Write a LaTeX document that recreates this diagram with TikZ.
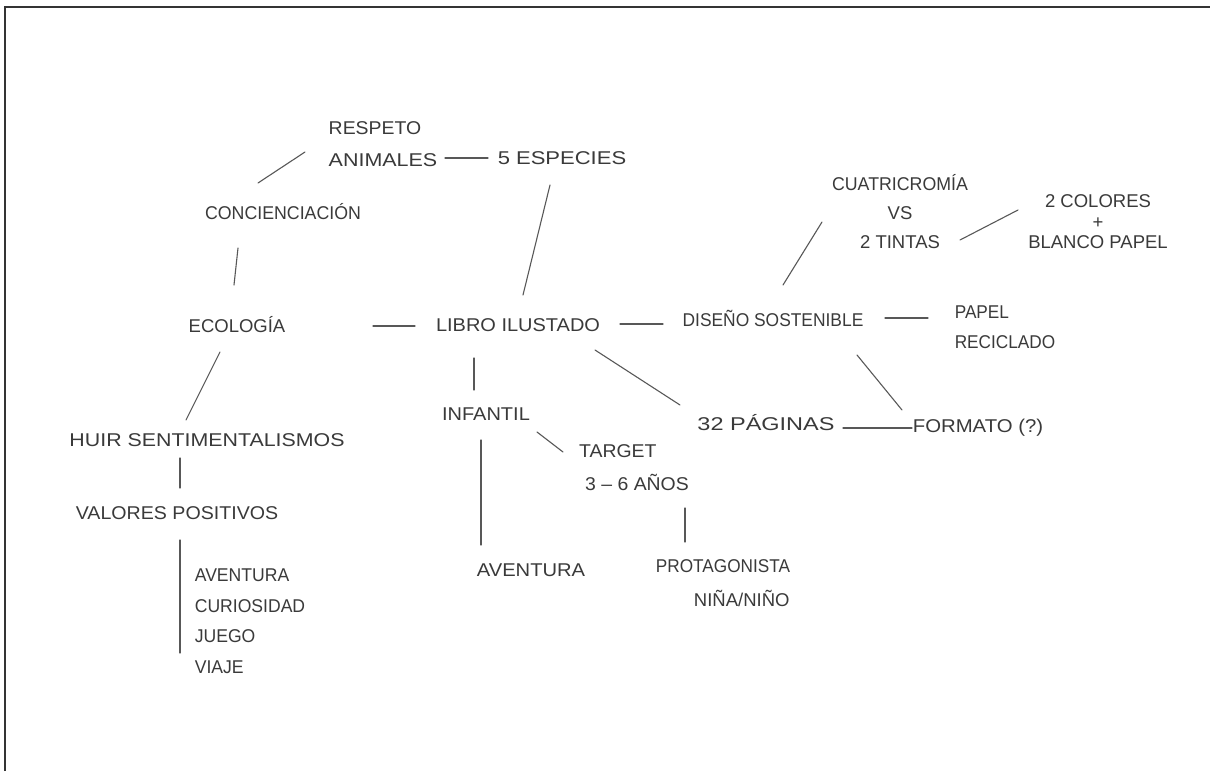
\documentclass[tikz,border=0pt]{standalone}
\usepackage{fontspec}
\usepackage{graphicx}
\setmainfont{Liberation Sans}
\usetikzlibrary{calc}
\definecolor{ink}{HTML}{3A3A3A}
\newcommand\fsz[2]{\fontsize{#1}{#2}\selectfont}
\newcommand\sx[2]{\scalebox{#1}[1]{#2}}
\begin{document}
\begin{tikzpicture}[x=1pt,y=-1pt,
  lbl/.style={text=ink, font=\fsz{18.5}{30}, inner sep=0pt},
  con/.style={draw=ink!85, line width=1.1pt, line cap=round}]
\useasboundingbox (0,0) rectangle (1210,771);
\fill[white] (0,0) rectangle (1210,771);
\draw[line width=2pt, ink!90!black] (5,771) -- (5,7) -- (1210,7);

% nodes
\node[lbl, align=left, font=\fsz{18.5}{32}] (resp) at (383,144) {\sx{1.05}{RESPETO}\\\sx{1.16}{ANIMALES}};
\node[lbl] (esp) at (562,158) {\sx{1.19}{5 ESPECIES}};
\node[lbl] (conc) at (283,212) {\sx{0.96}{CONCIENCIACIÓN}};
\node[lbl] (eco) at (237,325) {ECOLOGÍA};
\node[lbl] (libro) at (518,325) {\sx{1.08}{LIBRO ILUSTADO}};
\node[lbl] (dis) at (773,318) {\sx{0.94}{DISEÑO SOSTENIBLE}};
\node[lbl, align=left] (pap) at (1005,327) {\sx{0.93}{PAPEL}\\\sx{0.93}{RECICLADO}};
\node[lbl, align=center, font=\fsz{18.5}{29}] (cuat) at (900,212) {\sx{0.96}{CUATRICROMÍA}\\VS\\2 TINTAS};
\node[lbl, align=center, font=\fsz{18.5}{20.5}] (col) at (1098,222) {2 COLORES\\+\\BLANCO PAPEL};
\node[lbl] (pag) at (766,423) {\sx{1.27}{32 PÁGINAS}};
\node[lbl] (form) at (978,428) {\sx{1.1}{FORMATO (?)}};
\node[lbl] (inf) at (486,414) {\sx{1.08}{INFANTIL}};
\node[lbl, align=left, font=\fsz{18.5}{33}] (targ) at (634,468) {\sx{1.05}{TARGET}\\\hspace{6pt}\sx{1.05}{3 – 6 AÑOS}};
\node[lbl] (avent) at (531,570) {\sx{1.09}{AVENTURA}};
\node[lbl, align=left, font=\fsz{18.5}{34}] (prot) at (723,583) {\sx{0.93}{PROTAGONISTA}\\\hspace{38pt}NIÑA/NIÑO};
\node[lbl] (huir) at (207,440) {\sx{1.155}{HUIR SENTIMENTALISMOS}};
\node[lbl] (val) at (177,513) {\sx{1.06}{VALORES POSITIVOS}};
\node[lbl, align=left, font=\fsz{18.5}{30.5}] (list) at (250,621) {\sx{0.95}{AVENTURA}\\\sx{0.95}{CURIOSIDAD}\\\sx{0.95}{JUEGO}\\\sx{0.95}{VIAJE}};

% connectors
\draw[con] ($(resp)+(-78,8)$) -- ($(conc)+(-25,-29)$);
\draw[con] ($(resp)+(62,14)$) -- ($(esp)+(-74,0)$);
\draw[con] ($(conc)+(-45,36)$) -- ($(eco)+(-3,-40)$);
\draw[con] ($(esp)+(-12,27)$) -- ($(libro)+(5,-30)$);
\draw[con] ($(eco)+(136,1)$) -- ($(libro)+(-103,1)$);
\draw[con] ($(libro)+(102,-1)$) -- ($(dis)+(-110,6)$);
\draw[con] ($(dis)+(112,0)$) -- ($(pap)+(-77,-9)$);
\draw[con] ($(dis)+(10,-33)$) -- ($(cuat)+(-78,10)$);
\draw[con] ($(cuat)+(60,28)$) -- ($(col)+(-80,-12)$);
\draw[con] ($(libro)+(77,25)$) -- ($(pag)+(-86,-18)$);
\draw[con] ($(dis)+(84,37)$) -- ($(form)+(-76,-18)$);
\draw[con] ($(pag)+(77,5)$) -- ($(form)+(-66,0)$);
\draw[con] ($(libro)+(-44,33)$) -- ($(inf)+(-12,-24)$);
\draw[con] ($(inf)+(51,18)$) -- ($(targ)+(-71,-16)$);
\draw[con] ($(inf)+(-5,26)$) -- ($(avent)+(-50,-25)$);
\draw[con] ($(targ)+(51,40)$) -- ($(prot)+(-38,-41)$);
\draw[con] ($(eco)+(-17,27)$) -- ($(huir)+(-21,-20)$);
\draw[con] ($(huir)+(-27,18)$) -- ($(val)+(3,-25)$);
\draw[con] ($(val)+(3,27)$) -- ($(list)+(-70,32)$);
\end{tikzpicture}
\end{document}
